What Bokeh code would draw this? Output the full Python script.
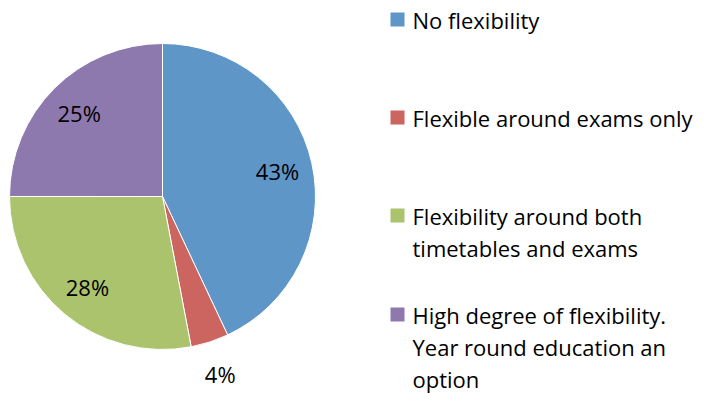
import numpy as np
from bokeh.plotting import figure
from bokeh.models import Range1d, ColumnDataSource
from bokeh.core.properties import value
from bokeh.embed import file_html
from bokeh.resources import INLINE

# Survey responses (share of respondents, %)
categories = [
    "No flexibility",
    "Flexible around exams only",
    "Flexibility around both\ntimetables and exams",
    "High degree of flexibility.\nYear round education an\noption",
]
shares = [43, 4, 28, 25]
colors = ["#5F96C8", "#CC6460", "#ABC36C", "#8E79AF"]

W, H = 708, 393
FONT = "Open Sans"
FSIZE = "22px"

p = figure(width=W, height=H, output_backend="svg", toolbar_location=None,
           x_range=Range1d(0, W), y_range=Range1d(0, H), min_border=0)
p.axis.visible = False
p.grid.visible = False
p.outline_line_color = None
p.background_fill_color = "white"

# Pie geometry (slices run clockwise from 12 o'clock)
cx, cy, R = 162, 197, 153
frac = np.array(shares, dtype=float) / sum(shares)
cum = np.concatenate([[0], np.cumsum(frac)])
start = np.pi / 2 - cum[1:] * 2 * np.pi
end = np.pi / 2 - cum[:-1] * 2 * np.pi
mid = (start + end) / 2

src = ColumnDataSource(dict(x=[cx] * 4, y=[cy] * 4, start=start, end=end, color=colors))
p.wedge(x="x", y="y", radius=R, start_angle="start", end_angle="end",
        direction="anticlock", fill_color="color", line_color="white",
        line_width=1, source=src)

# Percentage labels: inside for large slices, outside for small ones
rf = np.where(frac < 0.08, 1.22, 0.77)
lx = cx + rf * R * np.cos(mid)
ly = cy + rf * R * np.sin(mid)
p.text(x=lx, y=ly, text=[f"{s}%" for s in shares], text_align="center",
       text_baseline="middle", text_font=value(FONT), text_font_size=FSIZE,
       text_color="black")

# Legend: a square swatch and one or more wrapped lines per entry
leg_x, sq, line_h = 390, 14, 32
first_tops = [381, 283, 185, 86]
lines_x, lines_y, lines_t = [], [], []
for top, label in zip(first_tops, categories):
    for i, ln in enumerate(label.split("\n")):
        lines_x.append(leg_x + 22)
        lines_y.append(top - 7 - line_h * i)
        lines_t.append(ln)
p.rect(x=[leg_x + sq / 2] * 4, y=[t - sq / 2 for t in first_tops],
       width=sq, height=sq, fill_color=colors, line_color=None)
p.text(x=lines_x, y=lines_y, text=lines_t, text_align="left",
       text_baseline="middle", text_font=value(FONT), text_font_size=FSIZE,
       text_color="black")

open("out.html", "w").write(file_html(p, INLINE))
